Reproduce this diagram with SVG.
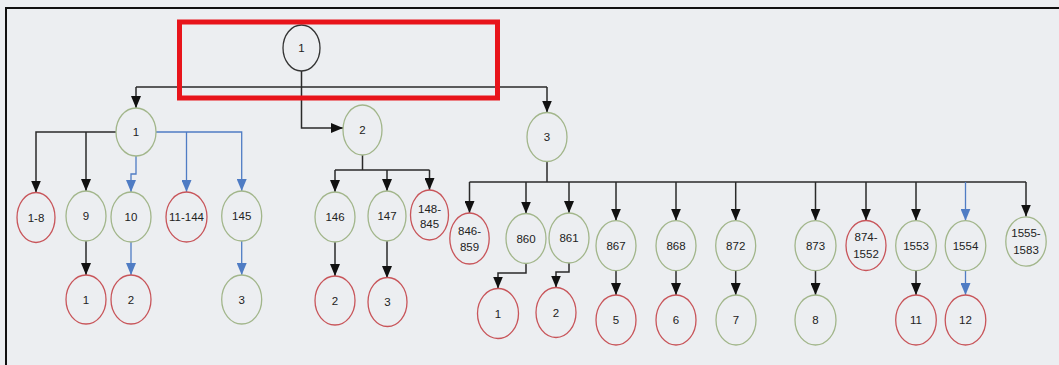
<svg xmlns="http://www.w3.org/2000/svg" width="1059" height="365" viewBox="0 0 1059 365">
<style>
.g{fill:none;stroke:#a2b68b;stroke-width:1.3}
.r{fill:none;stroke:#c8555a;stroke-width:1.3}
.k{fill:none;stroke:#333;stroke-width:1.3}
text{font-family:"Liberation Sans",Arial,sans-serif;font-size:11.5px;fill:#222;text-anchor:middle}
.c{fill:none;stroke:#2a2a2a;stroke-width:1.5}
.b{fill:none;stroke:#4f7cc4;stroke-width:1.3}
.ca{marker-end:url(#ak)}
.ba{marker-end:url(#ab)}
</style>
<defs>
<marker id="ak" viewBox="0 0 12 10" markerWidth="12" markerHeight="10" refX="12" refY="5" orient="auto" markerUnits="userSpaceOnUse"><path d="M0,0 L12,5 L0,10 z" fill="#111"/></marker>
<marker id="ab" viewBox="0 0 12 10" markerWidth="12" markerHeight="10" refX="12" refY="5" orient="auto" markerUnits="userSpaceOnUse"><path d="M0,0 L12,5 L0,10 z" fill="#4f7cc4"/></marker>
</defs>
<rect x="0" y="0" width="1059" height="365" fill="#eceef1"/>
<path d="M6,365 V8 H1059" fill="none" stroke="#111" stroke-width="2"/>

<g id="connectors">
<path class="c" d="M301.5,71 V87 M136,87 H547"/>
<path class="c ca" d="M136,87 V108"/>
<path class="c ca" d="M547,87 V112.5"/>
<path class="c ca" d="M301.5,87 V128 H343"/>
<path class="c ca" d="M116,132 H36 V192.5"/>
<path class="c ca" d="M86,132 V191"/>
<path class="b ba" d="M156,132 H241.7 V191"/>
<path class="b ba" d="M186.5,132 V192"/>
<path class="b ba" d="M136,156 V174 H131 V192"/>
<path class="c ca" d="M86,241 V275"/>
<path class="b ba" d="M131,242 V275"/>
<path class="b ba" d="M241.7,241 V275"/>
<path class="c" d="M362.5,155 V170 M335,170 H429.5"/>
<path class="c ca" d="M335,170 V192"/>
<path class="c ca" d="M387,170 V191"/>
<path class="c ca" d="M429.5,170 V190"/>
<path class="c ca" d="M335,242 V276"/>
<path class="c ca" d="M387,241 V278"/>
<path class="c" d="M547,161.5 V182 M469.5,182 H1026"/>
<path class="c ca" d="M469.5,182 V213"/>
<path class="c ca" d="M526,182 V213.5"/>
<path class="c ca" d="M569,182 V213"/>
<path class="c ca" d="M616,182 V220.7"/>
<path class="c ca" d="M676,182 V220.7"/>
<path class="c ca" d="M735.7,182 V220.7"/>
<path class="c ca" d="M815.5,182 V220.7"/>
<path class="c ca" d="M866,182 V220.5"/>
<path class="c ca" d="M916,182 V220.7"/>
<path class="b ba" d="M965.5,182 V220.7"/>
<path class="c ca" d="M1026,182 V216.5"/>
<path class="c ca" d="M526,263.5 V273 H498 V288.5"/>
<path class="c ca" d="M569,263 V272 H556 V287.5"/>
<path class="c ca" d="M616,270.7 V295"/>
<path class="c ca" d="M676,270.7 V295"/>
<path class="c ca" d="M735.7,270.7 V295"/>
<path class="c ca" d="M815.5,270.7 V295"/>
<path class="c ca" d="M916,270.7 V295"/>
<path class="b ba" d="M965.5,270.7 V295"/>
</g>

<g id="root"><ellipse class="k" cx="301.5" cy="48" rx="18.5" ry="23"/><text x="301.5" y="52">1</text></g>
<g id="n1"><ellipse class="g" cx="136" cy="132" rx="20" ry="24"/><text x="136" y="136">1</text></g>
<g id="n2"><ellipse class="g" cx="362.5" cy="130" rx="19.5" ry="25"/><text x="362.5" y="134">2</text></g>
<g id="n3"><ellipse class="g" cx="547" cy="137" rx="20" ry="24.5"/><text x="547" y="141">3</text></g>

<g id="n1-8"><ellipse class="r" cx="36" cy="217.5" rx="19" ry="25"/><text x="36" y="221.5">1-8</text></g>
<g id="n9"><ellipse class="g" cx="86" cy="216" rx="20" ry="25"/><text x="86" y="220">9</text></g>
<g id="n10"><ellipse class="g" cx="131" cy="217" rx="20" ry="25"/><text x="131" y="221">10</text></g>
<g id="n11-144"><ellipse class="r" cx="186.5" cy="217" rx="20.5" ry="25"/><text x="186.5" y="221">11-144</text></g>
<g id="n145"><ellipse class="g" cx="241.7" cy="216" rx="20" ry="25"/><text x="241.7" y="220">145</text></g>
<g id="n9-1"><ellipse class="r" cx="86" cy="299.5" rx="20" ry="24.5"/><text x="86" y="303.5">1</text></g>
<g id="n10-2"><ellipse class="r" cx="131" cy="299.5" rx="20" ry="24.5"/><text x="131" y="303.5">2</text></g>
<g id="n145-3"><ellipse class="g" cx="241.7" cy="299.5" rx="20" ry="24.5"/><text x="241.7" y="303.5">3</text></g>

<g id="n146"><ellipse class="g" cx="335" cy="217" rx="20" ry="25"/><text x="335" y="221">146</text></g>
<g id="n147"><ellipse class="g" cx="387" cy="216" rx="19" ry="25"/><text x="387" y="220">147</text></g>
<g id="n148-845"><ellipse class="r" cx="429.5" cy="215" rx="19" ry="25"/><text x="429.5" y="212.5">148-</text><text x="429.5" y="227.5">845</text></g>
<g id="n146-2"><ellipse class="r" cx="335" cy="300.5" rx="20" ry="24.5"/><text x="335" y="304.5">2</text></g>
<g id="n147-3"><ellipse class="r" cx="387.5" cy="302" rx="19.5" ry="24.5"/><text x="387.5" y="306">3</text></g>

<g id="n846-859"><ellipse class="r" cx="469.5" cy="238.5" rx="19.7" ry="25.5"/><text x="469.5" y="234.5">846-</text><text x="469.5" y="251">859</text></g>
<g id="n860"><ellipse class="g" cx="526" cy="238.5" rx="20" ry="25"/><text x="526" y="242.5">860</text></g>
<g id="n861"><ellipse class="g" cx="569" cy="238" rx="20" ry="25"/><text x="569" y="242">861</text></g>
<g id="n867"><ellipse class="g" cx="616" cy="245.7" rx="20" ry="25"/><text x="616" y="249.7">867</text></g>
<g id="n868"><ellipse class="g" cx="676" cy="245.7" rx="20" ry="25"/><text x="676" y="249.7">868</text></g>
<g id="n872"><ellipse class="g" cx="735.7" cy="245.7" rx="20" ry="25"/><text x="735.7" y="249.7">872</text></g>
<g id="n873"><ellipse class="g" cx="815.5" cy="245.7" rx="20.5" ry="25"/><text x="815.5" y="249.7">873</text></g>
<g id="n874-1552"><ellipse class="r" cx="866" cy="245.5" rx="20" ry="25"/><text x="866" y="240.5">874-</text><text x="866" y="257.5">1552</text></g>
<g id="n1553"><ellipse class="g" cx="916" cy="245.7" rx="20.3" ry="25"/><text x="916" y="249.7">1553</text></g>
<g id="n1554"><ellipse class="g" cx="965.5" cy="245.7" rx="20.3" ry="25"/><text x="965.5" y="249.7">1554</text></g>
<g id="n1555-1583"><ellipse class="g" cx="1026" cy="241.5" rx="20.2" ry="24.7"/><text x="1026" y="236.5">1555-</text><text x="1026" y="253.5">1583</text></g>

<g id="n860-1"><ellipse class="r" cx="498" cy="313.5" rx="20.5" ry="25"/><text x="498" y="317.5">1</text></g>
<g id="n861-2"><ellipse class="r" cx="556" cy="312.5" rx="20" ry="25"/><text x="556" y="316.5">2</text></g>
<g id="n867-5"><ellipse class="r" cx="616" cy="320" rx="20" ry="25"/><text x="616" y="324">5</text></g>
<g id="n868-6"><ellipse class="r" cx="676" cy="320" rx="20" ry="25"/><text x="676" y="324">6</text></g>
<g id="n872-7"><ellipse class="g" cx="736" cy="320" rx="20" ry="25"/><text x="736" y="324">7</text></g>
<g id="n873-8"><ellipse class="g" cx="815.5" cy="320" rx="20.5" ry="25"/><text x="815.5" y="324">8</text></g>
<g id="n1553-11"><ellipse class="r" cx="916" cy="320" rx="20.3" ry="25"/><text x="916" y="324">11</text></g>
<g id="n1554-12"><ellipse class="r" cx="965.5" cy="320" rx="20.3" ry="25"/><text x="965.5" y="324">12</text></g>

<rect x="179.5" y="22" width="318" height="76" fill="none" stroke="#e8141b" stroke-width="5"/>
</svg>
